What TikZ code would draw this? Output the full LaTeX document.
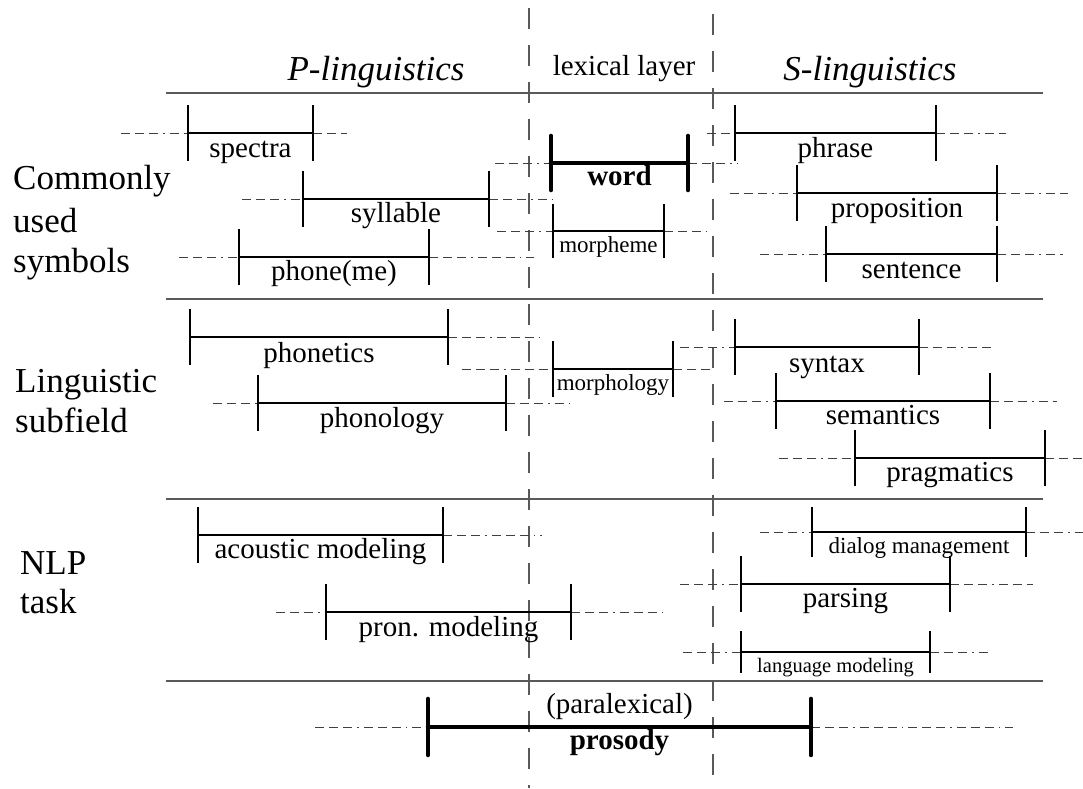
\documentclass[tikz,border=0pt]{standalone}
\usepackage{fontspec}
\setmainfont{Liberation Serif}
\usetikzlibrary{calc}

\tikzset{
  rule/.style={draw=black!65, line width=1.4pt},
  divider/.style={draw=black!65, line width=1.3pt, dash pattern=on 21pt off 16pt},
  ext/.style={draw=black!75, line width=1pt,
    dash pattern=on 9pt off 5pt on 9pt off 5pt on 9pt off 5pt on 1.5pt off 5pt},
  barline/.style={draw=black, line width=2.4pt},
  boldbar/.style={draw=black, line width=4.6pt, line cap=round},
  lab/.style={inner sep=0pt, anchor=base, font=\fontsize{29}{34}\selectfont},
  smalllab/.style={inner sep=0pt, anchor=base, font=\fontsize{23}{27}\selectfont},
  tinylab/.style={inner sep=0pt, anchor=base, font=\fontsize{20.5}{24}\selectfont},
  boldlab/.style={inner sep=0pt, anchor=base, font=\fontsize{29}{34}\selectfont\bfseries},
  rowlab/.style={inner sep=0pt, anchor=base west, font=\fontsize{35}{42}\selectfont},
  head/.style={inner sep=0pt, anchor=base, font=\fontsize{35}{42}\selectfont\itshape},
}

% #1 style, #2 name, #3 left end of the extension, #4 left tick, #5 right tick,
% #6 right end of the extension, #7 height of the bar, #8 half height of the ticks
\newcommand\interval[8][barline]{%
  \coordinate (#2-el) at (#3,#7);
  \coordinate (#2-l) at (#4,#7);
  \coordinate (#2-r) at (#5,#7);
  \coordinate (#2-er) at (#6,#7);
  \coordinate (#2-m) at ($(#2-l)!.5!(#2-r)$);
  \draw[ext] (#2-el) -- (#2-l);
  \draw[ext] (#2-r) -- (#2-er);
  \draw[#1] (#2-l) -- (#2-r);
  \draw[#1] ([yshift=#8pt]#2-l) -- ([yshift=-#8pt]#2-l);
  \draw[#1] ([yshift=#8pt]#2-r) -- ([yshift=-#8pt]#2-r);
}

\begin{document}
\begin{tikzpicture}[x=1pt, y=-1pt]
  \useasboundingbox (0,0) rectangle (1083,788);

  % layer boundaries
  \coordinate (pl-top) at (529,8);
  \coordinate (pl-bot) at (529,788);
  \coordinate (sl-top) at (713,14);
  \coordinate (sl-bot) at (713,788);
  \draw[divider] (pl-top) -- (pl-bot);
  \draw[divider] (sl-top) -- (sl-bot);

  % section rules
  \foreach \y [count=\i] in {93,299,499,681} {
    \coordinate (rule\i-l) at (166,\y);
    \coordinate (rule\i-r) at (1043,\y);
    \draw[rule] (rule\i-l) -- (rule\i-r);
  }

  % column headings
  \node[head] (plin) at (376,80) {P-linguistics};
  \node[inner sep=0pt, anchor=base, font=\fontsize{29}{34}\selectfont] (lex) at (624,75) {lexical layer};
  \node[head] (slin) at (870,80) {S-linguistics};

  % row headings
  \node[rowlab] (r1a) at (13,189) {Commonly};
  \node[rowlab] (r1b) at (13,232) {used};
  \node[rowlab] (r1c) at (13,272) {symbols};
  \node[rowlab] (r2a) at (15,392) {Linguistic};
  \node[rowlab] (r2b) at (15,432) {subfield};
  \node[rowlab] (r3a) at (20,574) {NLP};
  \node[rowlab] (r3b) at (20,613) {task};

  % commonly used symbols
  \interval{spectra}{121}{188}{313}{347}{133}{28}
  \interval{syllable}{242}{303}{489}{553}{199}{28}
  \interval{phone}{179}{239}{429}{534}{257}{28}
  \interval[boldbar]{word}{495}{551}{688}{738}{163}{27}
  \interval{morpheme}{497}{553}{664}{707}{231}{27}
  \interval{phrase}{707}{735}{936}{1006}{133}{28}
  \interval{proposition}{730}{797}{997}{1068}{193}{28}
  \interval{sentence}{760}{826}{997}{1063}{254}{28}

  \node[lab] (spectra-t) at ([yshift=-24pt]spectra-m) {spectra};
  \node[lab] (syllable-t) at ([yshift=-23pt]syllable-m) {syllable};
  \node[lab] (phone-t) at ([yshift=-23pt]phone-m) {phone(me)};
  \node[boldlab] (word-t) at ([yshift=-22pt]word-m) {word};
  \node[smalllab] (morpheme-t) at ([yshift=-21pt]morpheme-m) {morpheme};
  \node[lab] (phrase-t) at ([yshift=-24pt]phrase-m) {phrase};
  \node[lab] (proposition-t) at ([yshift=-24pt]proposition-m) {proposition};
  \node[lab] (sentence-t) at ([yshift=-24pt]sentence-m) {sentence};

  % linguistic subfields
  \interval{phonetics}{190}{190}{448}{541}{337}{28}
  \interval{phonology}{213}{258}{506}{569}{403}{28}
  \interval{morphology}{462}{553}{673}{713}{369}{28}
  \interval{syntax}{680}{735}{919}{993}{347}{28}
  \interval{semantics}{724}{776}{990}{1057}{401}{28}
  \interval{pragmatics}{779}{855}{1045}{1083}{458}{28}

  \node[lab] (phonetics-t) at ([yshift=-25pt]phonetics-m) {phonetics};
  \node[lab] (phonology-t) at ([yshift=-24pt]phonology-m) {phonology};
  \node[smalllab] (morphology-t) at ([yshift=-21pt]morphology-m) {morphology};
  \node[lab] (syntax-t) at ([yshift=-25pt]syntax-m) {syntax};
  \node[lab] (semantics-t) at ([yshift=-23pt]semantics-m) {semantics};
  \node[lab] (pragmatics-t) at ([yshift=-23pt]pragmatics-m) {pragmatics};

  % NLP tasks
  \interval{acoustic}{198}{198}{443}{542}{535}{28}
  \interval{pron}{276}{326}{571}{662}{612}{28}
  \interval{dialog}{760}{812}{1026}{1083}{532}{25}
  \interval{parsing}{680}{741}{950}{1033}{584}{28}
  \interval{langmod}{683}{741}{930}{988}{652}{21}

  \node[lab] (acoustic-t) at ([yshift=-23pt]acoustic-m) {acoustic modeling};
  \node[lab] (pron-t) at ([yshift=-24pt]pron-m) {pron. modeling};
  \node[smalllab] (dialog-t) at ([yshift=-21pt]dialog-m) {dialog management};
  \node[lab] (parsing-t) at ([yshift=-23pt]parsing-m) {parsing};
  \node[tinylab] (langmod-t) at ([yshift=-20pt]langmod-m) {language modeling};

  % prosody
  \interval[boldbar]{prosody}{315}{428}{811}{1013}{727}{28}
  \node[lab] (paralex-t) at ([yshift=14pt]prosody-m) {(paralexical)};
  \node[boldlab] (prosody-t) at ([yshift=-22pt]prosody-m) {prosody};
\end{tikzpicture}
\end{document}
